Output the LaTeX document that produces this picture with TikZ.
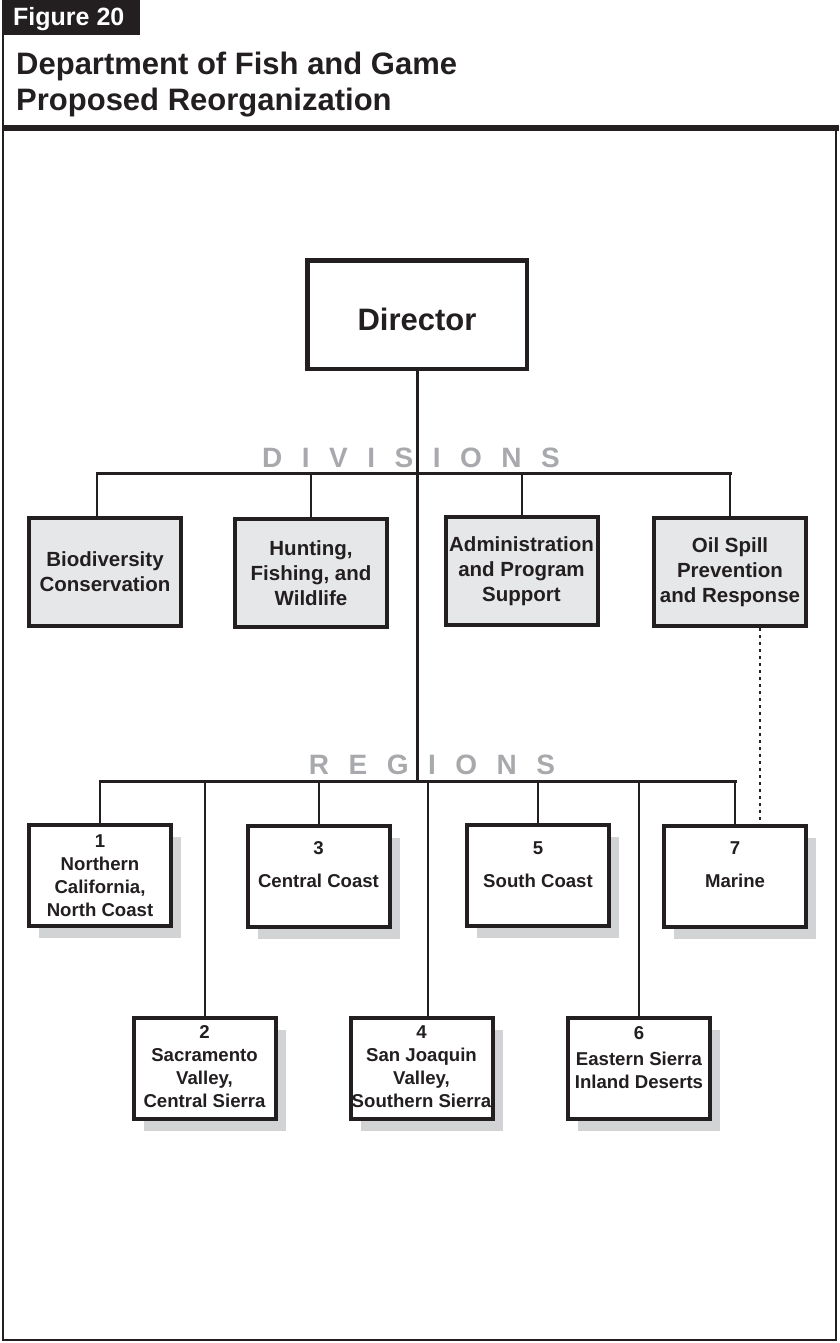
\documentclass[tikz,border=0pt]{standalone}
\usepackage{fontspec}
\setmainfont{Liberation Sans}
\usetikzlibrary{positioning,shadows}
\definecolor{inkblack}{HTML}{231F20}
\definecolor{boxgray}{HTML}{E6E7E8}
\definecolor{shadegray}{HTML}{D1D3D4}
\definecolor{captiongray}{HTML}{A7A9AC}
\newcommand{\lgap}{\hspace{19.5pt}}

\begin{document}
\begin{tikzpicture}[x=1pt,y=-1pt,
		dirbox/.style={draw=inkblack,line width=4.5pt,fill=white,minimum width=219.5pt,minimum height=108.5pt,inner sep=0pt,text=inkblack,font=\bfseries\fontsize{31}{36}\selectfont,text height=32.6pt,text depth=0pt},
		divbox/.style={draw=inkblack,line width=4pt,fill=boxgray,minimum width=152pt,minimum height=108pt,inner sep=0pt,align=center,text=inkblack,font=\bfseries\fontsize{20.5}{25}\selectfont},
		regbox/.style={draw=inkblack,line width=4pt,fill=white,minimum width=142pt,minimum height=101pt,inner sep=0pt,drop shadow={shadow xshift=10pt,shadow yshift=-12pt,fill=shadegray,opacity=1}},
		regtext/.style={anchor=north,inner sep=0pt,align=center,text=inkblack,font=\bfseries\fontsize{18.6}{23}\selectfont},
		caption/.style={anchor=base,inner sep=0pt,text=captiongray,font=\bfseries\fontsize{28}{30}\selectfont},
		bar/.style={draw=inkblack,line width=3pt,line cap=rect},
		drop/.style={draw=inkblack,line width=2pt},
		dotline/.style={draw=inkblack,line width=2pt,dash pattern=on 3pt off 4pt}]
	\useasboundingbox (0,0) rectangle (839,1343);
	\fill[inkblack] (2,0) rectangle (140,35);
	\node[anchor=base west,inner sep=0pt,text=white,font=\bfseries\fontsize{25}{30}\selectfont] (figtag) at (13,26) {Figure 20};
	\node[anchor=base west,inner sep=0pt,text=inkblack,font=\bfseries\fontsize{31}{36}\selectfont] (title1) at (16,75) {Department of Fish and Game};
	\node[anchor=base west,inner sep=0pt,text=inkblack,font=\bfseries\fontsize{31}{36}\selectfont] (title2) at (16,111) {Proposed Reorganization};
	\draw[inkblack,line width=6pt] (3,128) -- (839,128);
	\draw[inkblack,line width=2pt] (3,35) -- (3,1340) -- (836,1340) -- (836,131);

	\node[caption] (divlabel) at (411,467) {D\lgap I\lgap V\lgap I\lgap S\lgap I\lgap O\lgap N\lgap S};
	\node[caption] (reglabel) at (432,774) {R\lgap E\lgap G\lgap I\lgap O\lgap N\lgap S};

	\node[dirbox] (director) at (417,314.5) {Director};

	\node[divbox] (biodiv) at (105,572) {Biodiversity\\Conservation};
	\node[divbox] (hunting) at (311,573) {Hunting,\\Fishing, and\\Wildlife};
	\node[divbox] (admin) at (521.5,571) {Administration\\and Program\\Support};
	\node[divbox] (oilspill) at (730,572) {Oil Spill\\Prevention\\and Response};

	\node[regbox] (reg1) at (100,875.5) {};
	\node[regbox] (reg3) at (318.5,876) {};
	\node[regbox] (reg5) at (538,875.5) {};
	\node[regbox] (reg7) at (735,876) {};
	\node[regbox] (reg2) at (204.5,1068.5) {};
	\node[regbox] (reg4) at (421.5,1068.5) {};
	\node[regbox] (reg6) at (639,1068.5) {};

	\node[regtext] (reg1text) at ([yshift=-11pt]reg1.north) {1\\Northern\\California,\\North Coast};
	\node[regtext] (reg3text) at ([yshift=-18pt]reg3.north) {3\\[10pt]Central Coast};
	\node[regtext] (reg5text) at ([yshift=-18pt]reg5.north) {5\\[10pt]South Coast};
	\node[regtext] (reg7text) at ([yshift=-18pt]reg7.north) {7\\[10pt]Marine};
	\node[regtext] (reg2text) at ([yshift=-9pt]reg2.north) {2\\Sacramento\\Valley,\\Central Sierra};
	\node[regtext] (reg4text) at ([yshift=-9pt]reg4.north) {4\\San Joaquin\\Valley,\\Southern Sierra};
	\node[regtext] (reg6text) at ([yshift=-10pt]reg6.north) {6\\[3pt]Eastern Sierra\\Inland Deserts};

	\coordinate (divjoin) at (417,473);
	\coordinate (regjoin) at (417,781);
	\draw[bar] (director.south) -- (regjoin);
	\draw[bar] ([xshift=-8pt]biodiv.north |- divjoin) -- (oilspill.north |- divjoin);
	\draw[drop] ([xshift=-8pt]biodiv.north) -- ([xshift=-8pt]biodiv.north |- divjoin);
	\foreach \dv in {hunting,admin,oilspill}
		\draw[drop] (\dv.north) -- (\dv.north |- divjoin);
	\draw[bar] (reg1.north |- regjoin) -- (reg7.north |- regjoin);
	\foreach \rg in {reg1,reg2,reg3,reg5,reg6,reg7}
		\draw[drop] (\rg.north) -- (\rg.north |- regjoin);
	\draw[drop] ([xshift=6pt]reg4.north) -- ([xshift=6pt]reg4.north |- regjoin);
	\draw[dotline] ([xshift=30pt]oilspill.south) -- ([xshift=30pt]oilspill.south |- reg7.north);
\end{tikzpicture}
\end{document}
